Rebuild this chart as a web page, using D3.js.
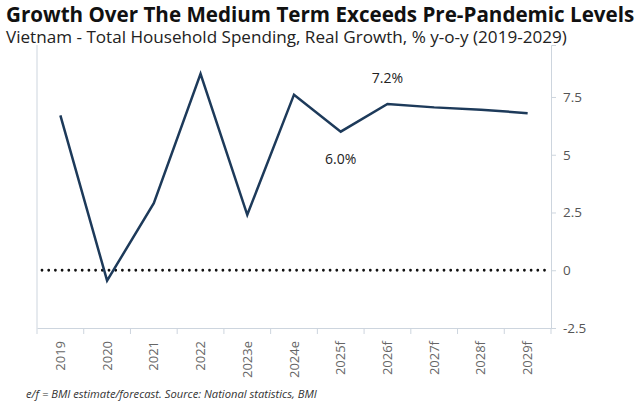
<!DOCTYPE html>
<html>
<head>
<meta charset="utf-8">
<script src="https://cdn.jsdelivr.net/npm/d3@7"></script>
<style>
body { margin: 0; background: #fff; }
svg text { font-family: "Open Sans", sans-serif; }
</style>
</head>
<body>
<div id="chart"></div>
<script>
// data
var years = ["2019", "2020", "2021", "2022", "2023e", "2024e", "2025f", "2026f", "2027f", "2028f", "2029f"];
var growth = [6.7, -0.45, 2.9, 8.5, 2.4, 7.6, 6.0, 7.2, 7.05, 6.95, 6.8];
var yTicks = [-2.5, 0, 2.5, 5, 7.5];
var notes = [{year: "2025f", text: "6.0%", dy: 32}, {year: "2026f", text: "7.2%", dy: -21}];

var W = 640, H = 410;
var margin = {t: 45, r: 89, b: 82, l: 37};
var width = W - margin.l - margin.r,
    height = H - margin.t - margin.b;

var svg = d3.select('#chart').append('svg')
    .attr('width', W)
    .attr('height', H);

// title + subtitle
svg.append('text').attr('x', 6).attr('y', 21.5)
    .style('font-size', '20.6px').style('font-weight', 'bold').style('fill', '#111')
    .text('Growth Over The Medium Term Exceeds Pre-Pandemic Levels');
svg.append('text').attr('x', 6).attr('y', 43)
    .style('font-size', '17.1px').style('fill', '#222')
    .text('Vietnam - Total Household Spending, Real Growth, % y-o-y (2019-2029)');

// scales
var x = d3.scaleBand().domain(years).range([0, width]);
var y = d3.scaleLinear().domain([-2.5, 9.75]).range([height, 0]);

var g = svg.append('g').attr('transform', 'translate(' + margin.l + ',' + margin.t + ')');

// left frame line
g.append('line').attr('x1', 0).attr('x2', 0).attr('y1', 0).attr('y2', height)
    .attr('stroke', '#cdd5de').attr('stroke-width', 1);

// right axis
var axisY = d3.axisRight(y).tickValues(yTicks).tickSize(5).tickPadding(7)
    .tickFormat(function(d){ return d; });
g.append('g').attr('class', 'axis axis-y')
    .attr('transform', 'translate(' + width + ',0)')
    .call(axisY)
    .call(function(s){
        s.select('.domain').attr('stroke', '#cdd5de');
        s.selectAll('.tick line').attr('stroke', '#cdd5de');
        s.selectAll('.tick text').style('font-size', '13.5px').style('fill', '#555');
    });

// bottom axis: ticks on band edges
var axisX = d3.axisBottom(x).tickSize(0).tickPadding(0);
var gx = g.append('g').attr('class', 'axis axis-x')
    .attr('transform', 'translate(0,' + height + ')')
    .call(axisX);
gx.select('.domain').attr('stroke', '#cdd5de');
gx.selectAll('.tick text')
    .attr('transform', 'rotate(-90)')
    .attr('x', -13).attr('y', 0).attr('dy', '0.35em')
    .style('text-anchor', 'end')
    .style('font-size', '13px').style('fill', '#666');
gx.selectAll('.edge').data(years.concat(['end']))
    .enter().append('line')
    .attr('class', 'edge')
    .attr('x1', function(d, i){ return i * x.bandwidth(); })
    .attr('x2', function(d, i){ return i * x.bandwidth(); })
    .attr('y1', 0).attr('y2', 6)
    .attr('stroke', '#cdd5de');

// zero line (dotted)
g.append('line')
    .attr('x1', 5).attr('x2', width - 5)
    .attr('y1', y(0)).attr('y2', y(0))
    .attr('stroke', '#111').attr('stroke-width', 2.8)
    .attr('stroke-linecap', 'round')
    .attr('stroke-dasharray', '0,6.7');

// series line
var line = d3.line()
    .x(function(d, i){ return x(years[i]) + x.bandwidth() / 2; })
    .y(function(d){ return y(d); });

g.append('path')
    .datum(growth)
    .attr('fill', 'none')
    .attr('stroke', '#1d3a5a')
    .attr('stroke-width', 2.5)
    .attr('stroke-linejoin', 'miter')
    .attr('d', line);

// annotations
g.selectAll('.note').data(notes).enter().append('text')
    .attr('class', 'note')
    .attr('x', function(d){ return x(d.year) + x.bandwidth() / 2; })
    .attr('y', function(d){ return y(growth[years.indexOf(d.year)]) + d.dy; })
    .style('text-anchor', 'middle')
    .style('font-size', '14px').style('fill', '#222')
    .text(function(d){ return d.text; });

// footnote
svg.append('text').attr('x', 26).attr('y', 398)
    .style('font-size', '11.2px').style('font-style', 'italic').style('fill', '#333')
    .text('e/f = BMI estimate/forecast. Source: National statistics, BMI');
</script>
</body>
</html>
